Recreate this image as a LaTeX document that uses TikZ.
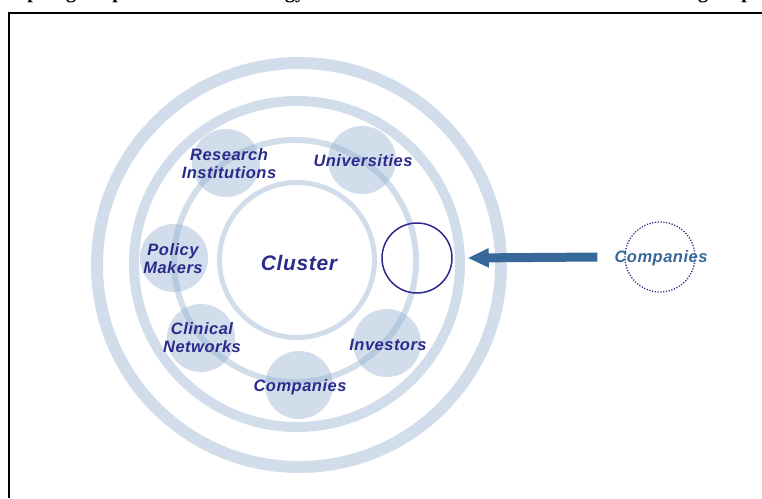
\documentclass[tikz,border=0pt]{standalone}
\usepackage{fontspec}
\setmainfont{Liberation Sans}
\newfontfamily\labfont[LetterSpace=3]{Liberation Sans}
\newfontfamily\headfont{Liberation Serif}
\usetikzlibrary{arrows.meta}
\definecolor{navy}{RGB}{43,43,140}
\definecolor{steel}{RGB}{54,104,153}
\definecolor{ringblue}{RGB}{140,170,205}
\begin{document}
\begin{tikzpicture}[x=1pt,y=-1pt,
  ring/.style={draw=ringblue, draw opacity=0.4},
  dotc/.style={circle, fill=ringblue, fill opacity=0.4, text opacity=1, minimum size=68pt, inner sep=0pt},
  lab/.style={font=\labfont\bfseries\itshape\fontsize{16.5}{18}\selectfont, text=navy, align=center, inner sep=0pt},
  biglab/.style={font=\labfont\bfseries\itshape\fontsize{21}{22}\selectfont, text=navy},
  headtxt/.style={font=\headfont\bfseries\fontsize{20}{22}\selectfont, anchor=base, inner sep=0pt},
]
\useasboundingbox (0,0) rectangle (762,498);
% heading fragments, cut off by the page top
\begin{scope}
\clip (0,0) rectangle (762,5);
\node[headtxt] (h1) at (33,-1.2) {p};
\node[headtxt] (h2) at (71,-1.2) {g};
\node[headtxt] (h3) at (118,-1.2) {p};
\node[headtxt] (h4) at (295,-1.2) {gy};
\node[headtxt] (h5) at (703,-1.2) {g};
\node[headtxt] (h6) at (747,-1.2) {p};
\end{scope}
% frame
\draw[line width=1.5pt] (9,498) -- (9,13) -- (762,13);
% rings
\draw[ring, line width=12pt] (299,265) circle[radius=202pt];
\draw[ring, line width=10pt] (297,264) circle[radius=163pt];
\draw[ring, line width=6pt] (295,261) circle[radius=121pt];
\node[circle, ring, line width=5pt, minimum size=155pt, inner sep=0pt] (cluster) at (297,260) {};
\node[biglab] (clustertxt) at (299,263) {Cluster};
% member circles
\node[dotc] (res) at (226,163) {};
\node[dotc] (uni) at (362,160) {};
\node[dotc] (pol) at (174,258) {};
\node[dotc] (cli) at (201,338) {};
\node[dotc] (com) at (299,385) {};
\node[dotc] (inv) at (387,343) {};
\node[lab] (restxt) at (229,164) {Research\\Institutions};
\node[lab] (unitxt) at (363,161) {Universities};
\node[lab] (poltxt) at (173,259) {Policy\\Makers};
\node[lab] (clitxt) at (202,338) {Clinical\\Networks};
\node[lab] (invtxt) at (388,345) {Investors};
\node[lab] (comtxt) at (300,387) {Companies};
% entry slot and newcomer
\node[circle, draw=navy, line width=1.5pt, minimum size=70pt, inner sep=0pt] (slot) at (417,258) {};
\node[circle, draw=navy, line width=1.3pt, dash pattern=on 1.2pt off 1.6pt, minimum size=70pt, inner sep=0pt] (newco) at (660,257) {};
\node[lab, text=steel] (newcotxt) at (661,258) {Companies};
\draw[steel, line width=9pt, -{Triangle[length=21pt,width=18pt]}] ([xshift=-27pt]newco.west) -- ([xshift=15pt]slot.east);
\end{tikzpicture}
\end{document}
